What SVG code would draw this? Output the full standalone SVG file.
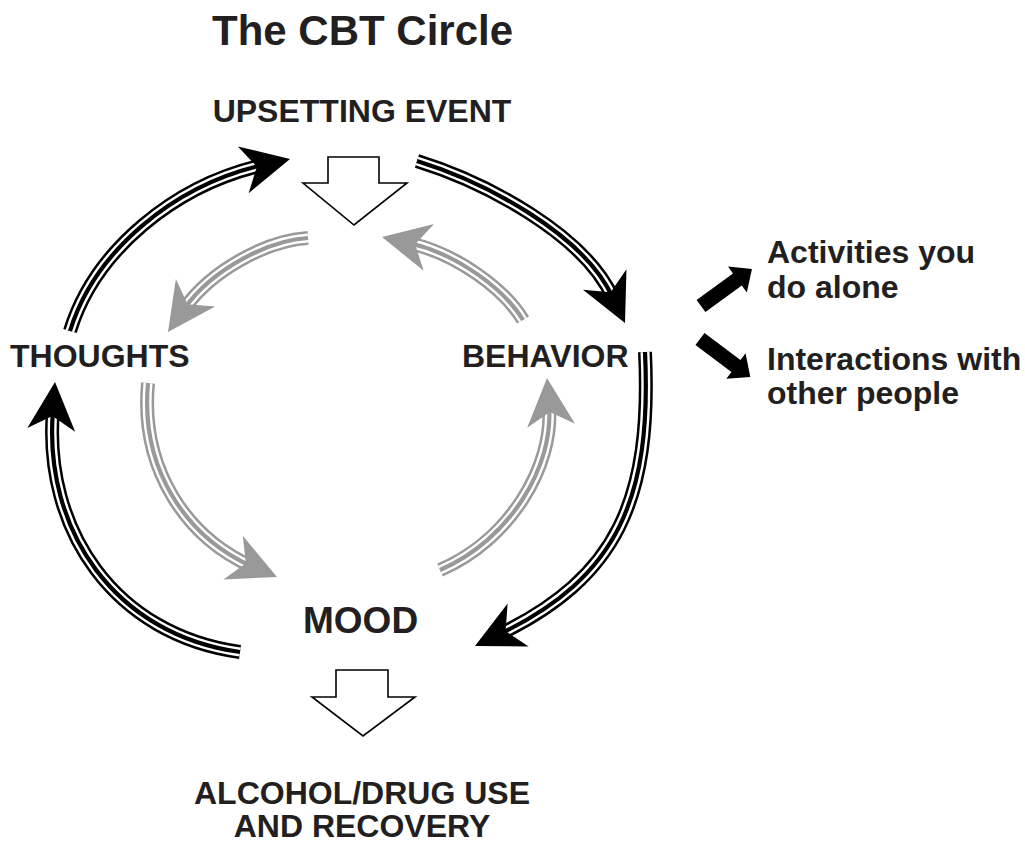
<svg xmlns="http://www.w3.org/2000/svg" xmlns:xlink="http://www.w3.org/1999/xlink" width="1025" height="842" viewBox="0 0 1025 842">
<style>
text{font-family:"Liberation Sans",Arial,sans-serif;font-weight:bold;fill:#231f20}
.lbl{font-size:32px}
.o{fill:none;stroke-width:14;stroke-linecap:butt}
.w{fill:none;stroke:#fff;stroke-width:9;stroke-linecap:butt}
.i{fill:none;stroke-width:4.2;stroke-linecap:butt}
.blk .o,.blk .i{stroke:#000}
.blk .hd{fill:#000}
.gry .o,.gry .i{stroke:#999}
.gry .hd{fill:#999}
.blockarrow{fill:#fff;stroke:#000;stroke-width:1.6;stroke-linejoin:miter}
.small{fill:#000}
</style>
<defs>
<path id="pA" d="M70,331 C95,250 175,185 263,165"/>
<path id="pB" d="M417,161 C485,182 584,234 613,298"/>
<path id="pC" d="M645,352 C652,500 617,577 500,634"/>
<path id="pD" d="M240,652 C115,635 43,530 53,410"/>
<path id="pE" d="M308,238 C270,240 213,268 184,309"/>
<path id="pF" d="M523,320 C505,290 458,254 409,243"/>
<path id="pG" d="M148,383 C140,470 187,537 251,566"/>
<path id="pH" d="M440,570 C510,540 554,466 549,406"/>
<path id="head" d="M0,0 L-48,-24 L-34,0 L-48,24 Z"/>
<path id="small" d="M0,-7.5 L45,-7.5 L45,-16 L63,0 L45,16 L45,7.5 L0,7.5 Z"/>
</defs>

<g id="title"><text x="212" y="45" style="font-size:42px">The CBT Circle</text></g>

<g id="upsetting-event">
<text class="lbl" x="362" y="122" text-anchor="middle">UPSETTING EVENT</text>
<polygon class="blockarrow" points="328,157 379,157 379,183 407,183 354,225 303,183 328,183"/>
</g>

<g id="thoughts"><text class="lbl" x="10" y="367">THOUGHTS</text></g>
<g id="behavior"><text class="lbl" x="462" y="367">BEHAVIOR</text></g>
<g id="mood"><text x="303" y="633" style="font-size:37px">MOOD</text></g>

<g id="alcohol">
<polygon class="blockarrow" points="336,670 388,670 388,697 415,697 363,736 312,697 336,697"/>
<text class="lbl" x="362" y="804" text-anchor="middle">ALCOHOL/DRUG USE</text>
<text class="lbl" x="362" y="837" text-anchor="middle">AND RECOVERY</text>
</g>

<g id="activities"><text class="lbl" x="767" y="263">Activities you</text><text class="lbl" x="767" y="298">do alone</text></g>
<g id="interactions"><text class="lbl" x="767" y="370">Interactions with</text><text class="lbl" x="767" y="404">other people</text></g>

<g id="connectors">
<g class="blk">
<use href="#pA" class="o"/><use href="#pA" class="w"/><use href="#pA" class="i"/>
<use href="#head" class="hd" transform="translate(290,159) rotate(-13)"/>
<use href="#pB" class="o"/><use href="#pB" class="w"/><use href="#pB" class="i"/>
<use href="#head" class="hd" transform="translate(625,323) rotate(65)"/>
<use href="#pC" class="o"/><use href="#pC" class="w"/><use href="#pC" class="i"/>
<use href="#head" class="hd" transform="translate(475,646) rotate(154)"/>
<use href="#pD" class="o"/><use href="#pD" class="w"/><use href="#pD" class="i"/>
<use href="#head" class="hd" transform="translate(55,382) rotate(-85.5)"/>
</g>
<g class="gry">
<use href="#pE" class="o"/><use href="#pE" class="w"/><use href="#pE" class="i"/>
<use href="#head" class="hd" transform="translate(168,332) rotate(125)"/>
<use href="#pF" class="o"/><use href="#pF" class="w"/><use href="#pF" class="i"/>
<use href="#head" class="hd" transform="translate(382,237) rotate(192.5)"/>
<use href="#pG" class="o"/><use href="#pG" class="w"/><use href="#pG" class="i"/>
<use href="#head" class="hd" transform="translate(277,577) rotate(23.8)"/>
<use href="#pH" class="o"/><use href="#pH" class="w"/><use href="#pH" class="i"/>
<use href="#head" class="hd" transform="translate(547,378) rotate(-94.9)"/>
</g>
<use href="#small" class="small" transform="translate(701,306) rotate(-36)"/>
<use href="#small" class="small" transform="translate(700,339) rotate(37)"/>
</g>
</svg>
